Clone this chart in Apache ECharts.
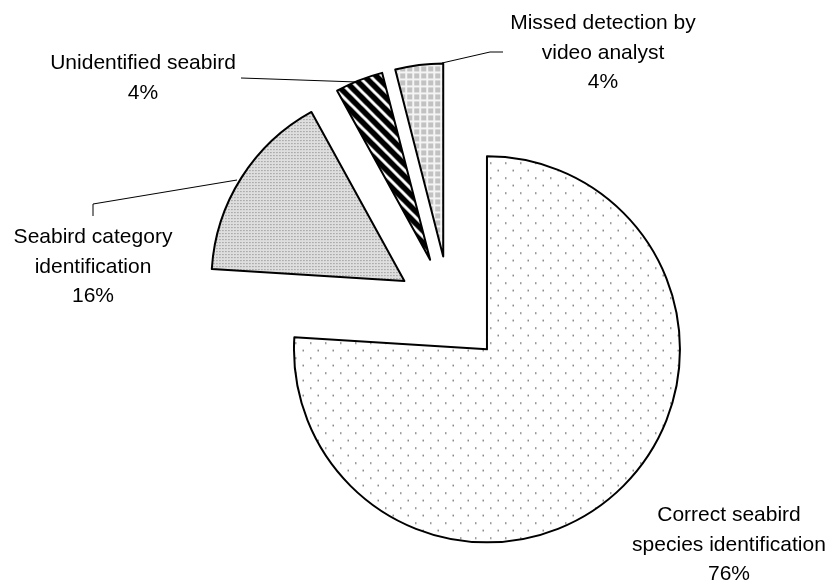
<!DOCTYPE html>
<html>
<head>
<meta charset="utf-8">
<title>Seabird identification</title>
<script src="https://cdn.jsdelivr.net/npm/echarts@6/dist/echarts.min.js"></script>
<style>
    html, body { margin: 0; padding: 0; background: #fff; }
    #pie { width: 832px; height: 588px; }
</style>
</head>
<body>
<div id="pie"></div>
<script>
// data
var categories = [
    'Correct seabird\nspecies identification',
    'Seabird category\nidentification',
    'Unidentified seabird',
    'Missed detection by\nvideo analyst'
];
var percents = [76, 16, 4, 4];

// where each label sits and how its leader line runs (page pixels)
var labelPos = [[729, 545], [93, 267], [143, 78], [603, 53]];
var leaderLines = [
    null,
    [[237, 180], [93, 204], [93, 216]],
    [[357, 82], [300, 80], [241, 78]],
    [[442, 63], [490, 52], [503, 52]]
];

function makeTile(size, draw){
    var c = document.createElement('canvas');
    c.width = size;
    c.height = size;
    draw(c.getContext('2d'), size);
    return c;
}

// sparse dots
var tileSparse = makeTile(15, function(ctx, s){
    ctx.fillStyle = '#fff';
    ctx.fillRect(0, 0, s, s);
    ctx.fillStyle = '#707070';
    ctx.fillRect(3, 3, 1.5, 1.5);
    ctx.fillRect(10.5, 10.5, 1.5, 1.5);
});
// fine dots
var tileFine = makeTile(3, function(ctx, s){
    ctx.fillStyle = '#dedede';
    ctx.fillRect(0, 0, s, s);
    ctx.fillStyle = '#7a7a7a';
    ctx.fillRect(1, 1, 1, 1);
});
// black / white diagonal stripes
var tileStripe = makeTile(12, function(ctx, s){
    ctx.fillStyle = '#000';
    ctx.fillRect(0, 0, s, s);
    ctx.strokeStyle = '#fff';
    ctx.lineWidth = 3;
    ctx.beginPath();
    for (var k = -1; k <= 1; k++){
        ctx.moveTo(k * s - 1, -1);
        ctx.lineTo(k * s + s + 1, s + 1);
    }
    ctx.stroke();
});
// gray squares with white grid
var tileGrid = makeTile(7, function(ctx, s){
    ctx.fillStyle = '#f4f4f4';
    ctx.fillRect(0, 0, s, s);
    ctx.fillStyle = '#c2c2c2';
    ctx.fillRect(1, 1, 5, 5);
});
var tiles = [tileSparse, tileFine, tileStripe, tileGrid];

var seriesData = [];
var labelGraphics = [];
for (var i = 0; i < categories.length; i++){
    seriesData.push({
        name : categories[i],
        value : percents[i],
        selected : true,
        itemStyle : {
            color : { image : tiles[i], repeat : 'repeat' }
        }
    });
    labelGraphics.push({
        type : 'text',
        x : labelPos[i][0],
        y : labelPos[i][1],
        z : 100,
        style : {
            text : categories[i] + '\n' + percents[i] + '%',
            fill : '#000',
            fontFamily : 'Liberation Sans, Arial, sans-serif',
            fontSize : 21,
            lineHeight : 29.5,
            align : 'center',
            verticalAlign : 'middle'
        }
    });
    if (leaderLines[i]){
        labelGraphics.push({
            type : 'polyline',
            z : 100,
            shape : { points : leaderLines[i] },
            style : { stroke : '#000', lineWidth : 1, fill : null }
        });
    }
}

var myChart = echarts.init(document.getElementById('pie'));
var option = {
    animation : false,
    graphic : labelGraphics,
    series : [
        {
            type : 'pie',
            center : [450, 310],
            radius : 193,
            startAngle : 90,
            clockwise : true,
            selectedMode : 'multiple',
            selectedOffset : 54,
            itemStyle : {
                borderColor : '#000',
                borderWidth : 2
            },
            label : { show : false },
            labelLine : { show : false },
            emphasis : { disabled : true },
            data : seriesData
        }
    ]
};
myChart.setOption(option);
</script>
</body>
</html>
